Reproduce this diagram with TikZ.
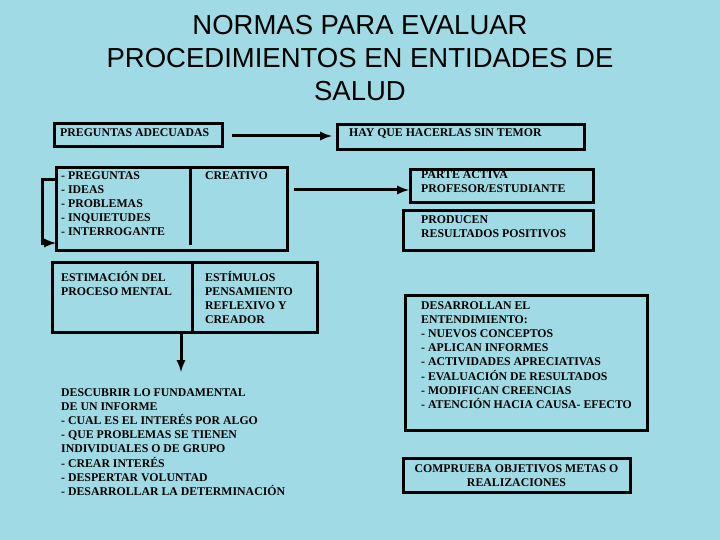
\documentclass[tikz,border=0pt]{standalone}
\usepackage{fontspec}
\setmainfont{Liberation Serif}
\newfontfamily\titlefont{Liberation Sans}
\usepackage{tikz}
\usetikzlibrary{positioning}
\definecolor{aguaBg}{RGB}{160,218,228}

\tikzset{
  cajaBox/.style={draw=black,line width=3pt,inner sep=0pt},
  textoNorma/.style={font=\bfseries\fontsize{11.8}{14.2}\selectfont,align=left,anchor=north west,inner sep=0pt},
  flechaNorma/.style={line width=3pt,-latex}
}

\begin{document}
\begin{tikzpicture}[x=1pt,y=-1pt]
\fill[aguaBg] (0,0) rectangle (720,540);
\useasboundingbox (0,0) rectangle (720,540);
% title
\node (titulo) at (360,58) [font=\titlefont\fontsize{27.5}{33}\selectfont,align=center]
  {NORMAS PARA EVALUAR\\PROCEDIMIENTOS EN ENTIDADES DE\\SALUD};
% upper row
\draw[cajaBox] (54,124) rectangle (222,147);
\node (preguntas) [textoNorma] at (60,128) {PREGUNTAS ADECUADAS};
\draw[cajaBox] (337,125) rectangle (584,150);
\node (hay) [textoNorma] at (349,128) {HAY QUE HACERLAS SIN TEMOR};
\coordinate (pregR) at (232,136);
\coordinate (hayL) at (332,136);
\draw[flechaNorma] (pregR) -- (hayL);
% list box
\draw[cajaBox] (56,168) rectangle (287,250);
\draw[line width=3pt] (190,168) -- (190,245);
\node (lista) [textoNorma] at (61,171) {- PREGUNTAS\\- IDEAS\\- PROBLEMAS\\- INQUIETUDES\\- INTERROGANTE};
\node (creativo) [textoNorma] at (205,171) {CREATIVO};
\coordinate (brA) at (55,180);
\coordinate (brB) at (56,243);
\draw[flechaNorma] (brA) -- (42,180) -- (42,243) -- (brB);
% parte activa
\draw[cajaBox] (410,170) rectangle (593,203);
\node (parte) [textoNorma] at (421,170) {PARTE ACTIVA\\PROFESOR/ESTUDIANTE};
\coordinate (creaR) at (294,190);
\coordinate (parteL) at (409,190);
\draw[flechaNorma] (creaR) -- (parteL);
\draw[cajaBox] (403,211) rectangle (593,250);
\node (producen) [textoNorma] at (421,215) {PRODUCEN\\RESULTADOS POSITIVOS};
% estimation box
\draw[cajaBox] (52,262) rectangle (317,332);
\draw[line width=3pt] (192,262) -- (192,332);
\node (estimacion) [textoNorma] at (61,271) {ESTIMACIÓN DEL\\PROCESO MENTAL};
\node (estimulos) [textoNorma] at (205,271) {ESTÍMULOS\\PENSAMIENTO\\REFLEXIVO Y\\CREADOR};
\coordinate (estB) at (181,332);
\coordinate (descT) at (181,372);
\draw[flechaNorma] (estB) -- (descT);
\node (descubrir) [textoNorma] at (61,388) {DESCUBRIR LO FUNDAMENTAL\\DE UN INFORME\\- CUAL ES EL INTERÉS POR ALGO\\- QUE PROBLEMAS SE TIENEN\\INDIVIDUALES O DE GRUPO\\- CREAR INTERÉS\\- DESPERTAR VOLUNTAD\\- DESARROLLAR LA DETERMINACIÓN};
% right column
\draw[cajaBox] (405,295) rectangle (647,430);
\node (desarrollan) [textoNorma] at (421,301) {DESARROLLAN EL\\ENTENDIMIENTO:\\- NUEVOS CONCEPTOS\\- APLICAN INFORMES\\- ACTIVIDADES APRECIATIVAS\\- EVALUACIÓN DE RESULTADOS\\- MODIFICAN CREENCIAS\\- ATENCIÓN HACIA CAUSA- EFECTO};
\draw[cajaBox] (403,458) rectangle (630,492);
\node (comprueba) at (516.5,476) [font=\bfseries\fontsize{11.8}{14.2}\selectfont,align=center,inner sep=0pt]
  {COMPRUEBA OBJETIVOS METAS O\\REALIZACIONES};
\end{tikzpicture}
\end{document}
